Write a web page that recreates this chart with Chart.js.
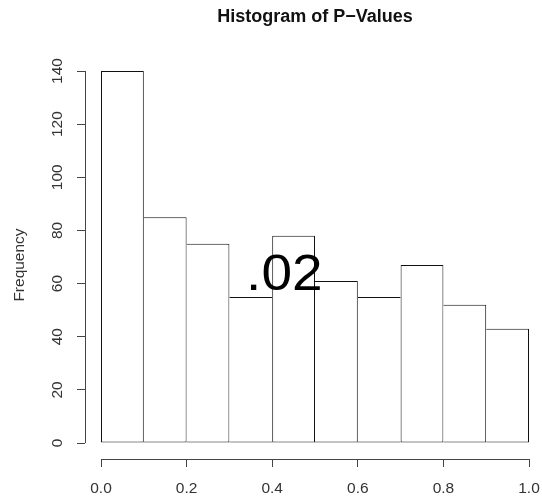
<!DOCTYPE html>
<html>
<head>
<meta charset="utf-8">
<script src="https://cdn.jsdelivr.net/npm/chart.js@4/dist/chart.umd.min.js"></script>
<style>
  html, body { margin: 0; padding: 0; background: #fff; }
  #wrap { width: 542px; height: 503px; position: relative; }
</style>
</head>
<body>
<div id="wrap"><canvas id="c" width="542" height="503"></canvas></div>
<script>
// ---- data ----
const binStarts = [0.0, 0.1, 0.2, 0.3, 0.4, 0.5, 0.6, 0.7, 0.8, 0.9];
const binWidth = 0.1;
const frequencies = [140, 85, 75, 55, 78, 61, 55, 67, 52, 43];
const xTickValues = [0.0, 0.2, 0.4, 0.6, 0.8, 1.0];
const yTickValues = [0, 20, 40, 60, 80, 100, 120, 140];
const chartTitle = 'Histogram of P\u2212Values';
const yAxisTitle = 'Frequency';
const overlayText = '.02';
const overlayAt = { x: 0.339, y: 57.6 };

const FONT = '"Liberation Sans", Arial, Helvetica, sans-serif';
const tickFont = { family: FONT, size: 15.5 };

const points = binStarts.map((s, i) => ({ x: s + binWidth / 2, y: frequencies[i] }));
const last = points.length - 1;

// single shared edge between neighbouring bars: the taller bar draws it
function edgeWidths(i) {
  const prev = i > 0 ? frequencies[i - 1] : -1;
  const next = i < last ? frequencies[i + 1] : -1;
  return {
    top: 1,
    bottom: 1,
    left: (i === 0 || frequencies[i] >= prev) ? 1 : 0,
    right: (i === last || frequencies[i] > next) ? 1 : 0
  };
}

const rAxes = {
  id: 'rAxes',
  afterDraw(chart) {
    const { ctx, scales: { x, y }, chartArea } = chart;
    ctx.save();
    ctx.strokeStyle = '#444';
    ctx.lineWidth = 1;
    const xl = Math.round(chartArea.left) + 0.5;
    ctx.beginPath();
    ctx.moveTo(xl, y.getPixelForValue(yTickValues[0]));
    ctx.lineTo(xl, y.getPixelForValue(yTickValues[yTickValues.length - 1]));
    ctx.stroke();
    const yb = Math.round(chartArea.bottom) + 0.5;
    ctx.beginPath();
    ctx.moveTo(x.getPixelForValue(xTickValues[0]), yb);
    ctx.lineTo(x.getPixelForValue(xTickValues[xTickValues.length - 1]), yb);
    ctx.stroke();
    // title, centred over the plotted x range (as R does)
    ctx.fillStyle = '#111';
    ctx.font = 'bold 18px ' + FONT;
    ctx.textAlign = 'center';
    ctx.textBaseline = 'middle';
    ctx.fillText(chartTitle, (x.getPixelForValue(xTickValues[0]) + x.getPixelForValue(xTickValues[xTickValues.length - 1])) / 2, 17);
    // overlay text
    ctx.fillStyle = '#000';
    ctx.font = '50px ' + FONT;
    ctx.textAlign = 'left';
    ctx.textBaseline = 'alphabetic';
    const ox = x.getPixelForValue(overlayAt.x), oy = y.getPixelForValue(overlayAt.y);
    ctx.translate(ox, oy);
    ctx.scale(1.1, 1);
    ctx.fillText(overlayText, 0, 0);
    ctx.restore();
  }
};

new Chart(document.getElementById('c'), {
  type: 'bar',
  data: {
    datasets: [{
      data: points,
      backgroundColor: '#ffffff',
      borderColor: '#111',
      borderSkipped: false,
      clip: false,
      inflateAmount: 0,
      borderWidth: (c) => edgeWidths(c.dataIndex),
      barPercentage: 1,
      categoryPercentage: 1
    }]
  },
  options: {
    responsive: false,
    animation: false,
    devicePixelRatio: 1,
    layout: { padding: { left: 0, right: 13, top: 71, bottom: 0 } },
    plugins: {
      legend: { display: false },
      tooltip: { enabled: false },
      title: { display: false }
    },
    scales: {
      x: {
        type: 'linear',
        offset: false,
        min: -0.0374,
        max: 1.0,
        afterFit: (s) => { s.height = 44; s.paddingLeft = 0; s.paddingRight = 0; },
        afterBuildTicks: (s) => { s.ticks = xTickValues.map(v => ({ value: v })); },
        ticks: {
          color: '#333',
          font: tickFont,
          padding: 12,
          maxRotation: 0,
          autoSkip: false,
          callback: (v) => Number(v).toFixed(1)
        },
        grid: { display: true, offset: false, drawOnChartArea: false, drawTicks: true, tickLength: 8, color: '#444', lineWidth: 1 },
        border: { display: false }
      },
      y: {
        type: 'linear',
        min: -6,
        max: 140,
        afterFit: (s) => { s.width = 85; s.paddingTop = 0; s.paddingBottom = 0; },
        afterBuildTicks: (s) => { s.ticks = yTickValues.map(v => ({ value: v })); },
        ticks: {
          color: '#333',
          font: tickFont,
          padding: 6,
          minRotation: 90,
          maxRotation: 90,
          crossAlign: 'center',
          autoSkip: false,
          callback: (v) => String(v)
        },
        grid: { display: true, drawOnChartArea: false, drawTicks: true, tickLength: 8, color: '#444', lineWidth: 1 },
        border: { display: false },
        title: {
          display: true,
          text: yAxisTitle,
          color: '#333',
          font: { family: FONT, size: 15.5 },
          padding: { top: 10, bottom: 0 }
        }
      }
    }
  },
  plugins: [rAxes]
});
</script>
</body>
</html>
